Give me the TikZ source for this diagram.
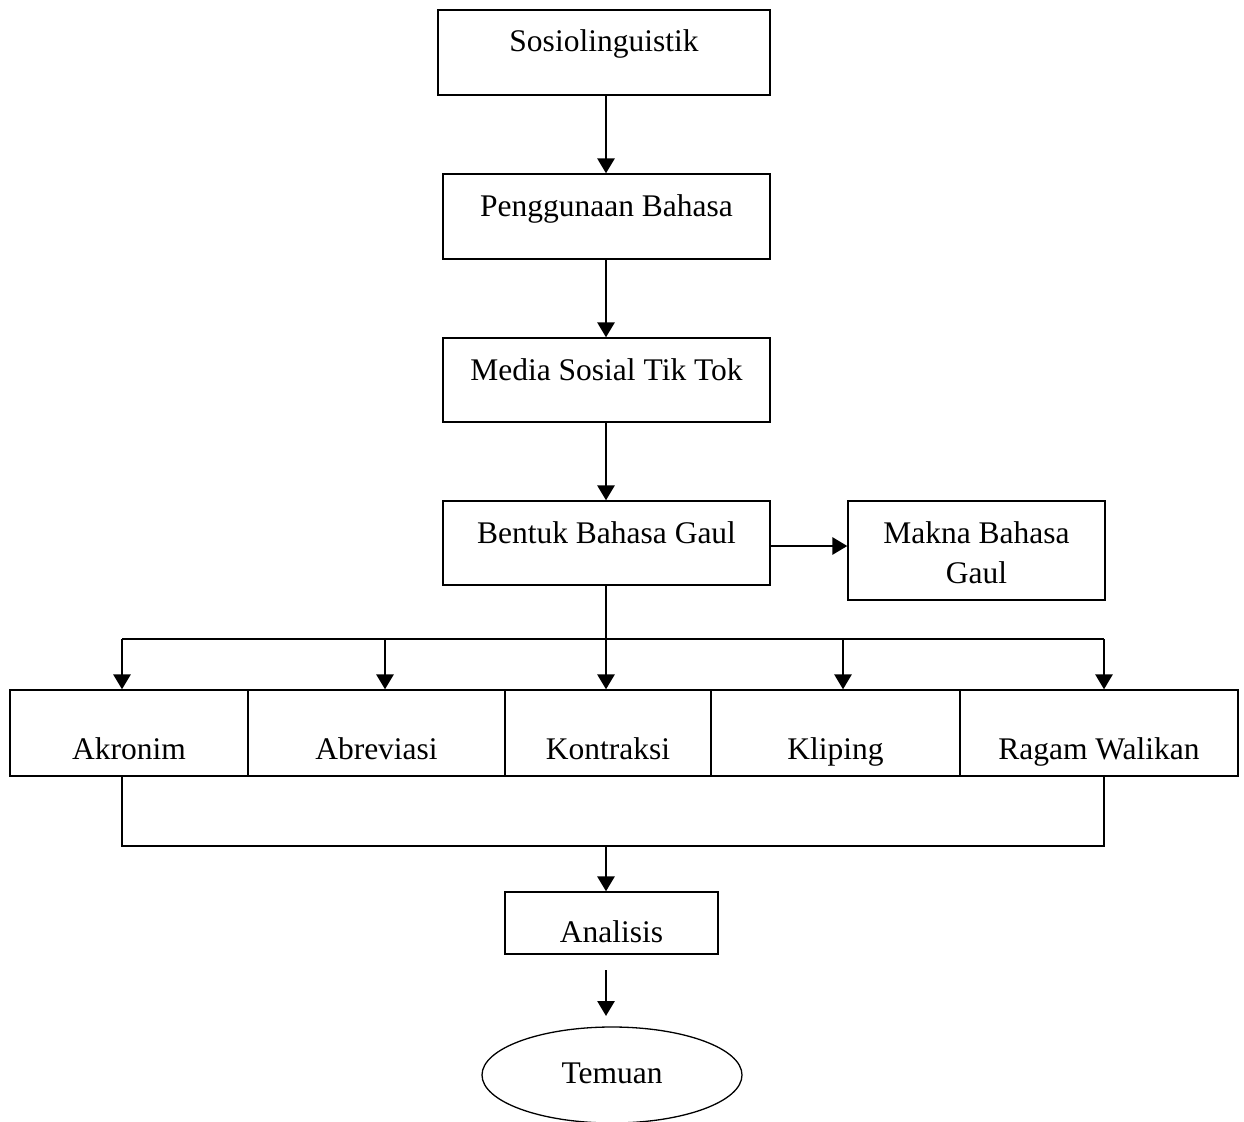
\documentclass[tikz,border=0pt]{standalone}
\usepackage{fontspec}
\setmainfont{Liberation Serif}
\usetikzlibrary{arrows.meta,shapes.geometric}
\begin{document}
\begin{tikzpicture}[x=1pt,y=-1pt,
  box/.style={draw,line width=1.3pt,inner sep=0pt},
  txt/.style={inner sep=0pt,anchor=base,font=\fontsize{31.5}{40}\selectfont},
  arr/.style={line width=2.8pt,-{Triangle[length=15pt,width=17pt]}},
  bus/.style={line width=1.6pt},
  ln/.style={line width=1.5pt}]
\useasboundingbox (0,0) rectangle (1244,1121);
% main column
\node[box,minimum width=332pt,minimum height=85pt] (b1) at (604,52.5) {};
\node[txt] (t1) at (604,52) {Sosiolinguistik};
\node[box,minimum width=327pt,minimum height=85pt] (b2) at (606.5,216.5) {};
\node[txt] (t2) at (606.5,216) {Penggunaan Bahasa};
\node[box,minimum width=327pt,minimum height=84pt] (b3) at (606.5,380) {};
\node[txt] (t3) at (606.5,380) {Media Sosial Tik Tok};
\node[box,minimum width=327pt,minimum height=84pt] (b4) at (606.5,543) {};
\node[txt] (t4) at (606.5,543) {Bentuk Bahasa Gaul};
\node[box,minimum width=257pt,minimum height=99pt] (mk) at (976.5,550.5) {};
\node[txt] (t5) at (976.5,543) {Makna Bahasa};
\node[txt] (t6) at (976.5,583) {Gaul};
% row
\node[box,minimum width=238pt,minimum height=86pt] (c1) at (129,733) {};
\node[box,minimum width=257pt,minimum height=86pt] (c2) at (376.5,733) {};
\node[box,minimum width=206pt,minimum height=86pt] (c3) at (608,733) {};
\node[box,minimum width=249pt,minimum height=86pt] (c4) at (835.5,733) {};
\node[box,minimum width=278pt,minimum height=86pt] (c5) at (1099,733) {};
\node[txt] (r1) at (129,759) {Akronim};
\node[txt] (r2) at (376.5,759) {Abreviasi};
\node[txt] (r3) at (608,759) {Kontraksi};
\node[txt] (r4) at (835.5,759) {Kliping};
\node[txt] (r5) at (1099,759) {Ragam Walikan};
% analysis
\node[box,minimum width=213pt,minimum height=62pt] (an) at (611.5,923) {};
\node[txt] (t7) at (611.5,942) {Analisis};
\node[draw,line width=1.3pt,ellipse,minimum width=260pt,minimum height=96pt,inner sep=0pt] (tm) at (612,1075) {};
\node[txt] (t8) at (612,1083) {Temuan};
% connectors
\draw[arr] (b1.south -| 606,0) -- (b2.north -| 606,0);
\draw[arr] (b2.south -| 606,0) -- (b3.north -| 606,0);
\draw[arr] (b3.south -| 606,0) -- (b4.north -| 606,0);
\draw[arr] (b4.east |- 0,546) -- (mk.west |- 0,546);
\coordinate (p1) at (122,639);
\coordinate (p2) at (385,639);
\coordinate (p3) at (606,639);
\coordinate (p4) at (843,639);
\coordinate (p5) at (1104,639);
\draw[bus] (b4.south -| p3) -- (p3);
\draw[bus] (p1) -- (p5);
\draw[arr] (p1) -- (p1 |- c1.north);
\draw[arr] (p2) -- (p2 |- c2.north);
\draw[arr] (p3) -- (p3 |- c3.north);
\draw[arr] (p4) -- (p4 |- c4.north);
\draw[arr] (p5) -- (p5 |- c5.north);
\coordinate (q1) at (122,846);
\coordinate (q5) at (1104,846);
\coordinate (qm) at (606,846);
\draw[ln] (q1 |- c1.south) -- (q1) -- (q5) -- (q5 |- c5.south);
\draw[arr] (qm) -- (qm |- an.north);
\coordinate (s1) at (606,970);
\coordinate (s2) at (606,1016);
\draw[arr] (s1) -- (s2);
\end{tikzpicture}
\end{document}
